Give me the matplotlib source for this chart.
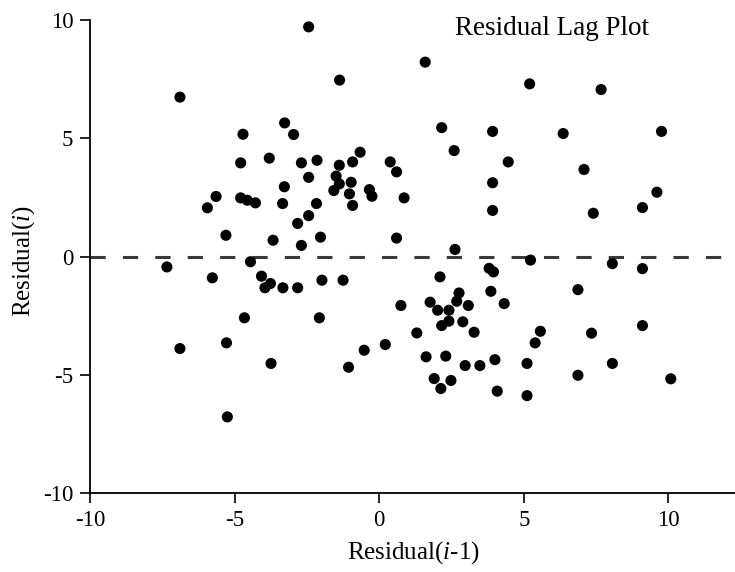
import matplotlib
matplotlib.use("Agg")
import matplotlib.pyplot as plt

# residual(i-1), residual(i) pairs
lag_x = [-2.44, -6.89, -3.27, -2.96, -4.71, -3.80, -2.69, -4.79, -2.44, -3.28,
         -5.64, -4.79, -4.56, -4.28, -3.34, -5.94, -2.44, -2.82, -5.30, -3.67,
         -2.69, -4.45,
         -1.37, 1.59, 2.16, 2.59, -0.66, -2.15, -0.92, -1.38, 0.38, 0.60,
         -1.49, -1.38, -0.97, -1.57, -1.03, -0.34, -0.25, -0.92, 0.86, -2.17,
         -2.03, 0.60, 2.62,
         5.20, 7.67, 3.92, 6.36, 9.76, 4.46, 7.08, 3.92, 9.60, 3.92, 7.40, 9.10,
         5.23,
         -7.34, -5.77, -4.07, -3.76, -3.95, -3.33, -2.82, -4.66, -5.28, -6.89,
         -3.74, -5.25, -2.07,
         -1.98, -1.25, 2.10, 0.75, 1.76, 2.02, 2.41, 2.76, 2.68, 3.08, 2.41,
         2.16, 2.89, 1.30, 0.21, -0.52, -1.06, 1.62, 2.30, 2.97, 1.90, 2.48,
         2.13,
         3.80, 3.95, 8.06, 9.10, 3.86, 6.87, 4.32, 3.28, 5.57, 5.39, 7.34,
         9.10, 3.48, 4.00, 5.11, 8.06, 6.87, 10.08, 4.08, 5.11]
lag_y = [9.71, 6.74, 5.65, 5.16, 5.17, 4.16, 3.96, 3.96, 3.35, 2.95,
         2.54, 2.48, 2.38, 2.27, 2.24, 2.06, 1.73, 1.40, 0.90, 0.69,
         0.47, -0.22,
         7.46, 8.22, 5.45, 4.48, 4.41, 4.07, 4.00, 3.86, 4.00, 3.58,
         3.40, 3.07, 3.14, 2.79, 2.65, 2.83, 2.55, 2.16, 2.48, 2.24,
         0.82, 0.78, 0.30,
         7.30, 7.06, 5.29, 5.20, 5.29, 4.00, 3.68, 3.12, 2.72, 1.95, 1.83, 2.07,
         -0.15,
         -0.44, -0.90, -0.83, -1.14, -1.32, -1.32, -1.32, -2.59, -3.65, -3.89,
         -4.52, -6.78, -2.59,
         -1.00, -1.00, -0.86, -2.07, -1.93, -2.27, -2.27, -1.54, -1.89, -2.07, -2.73,
         -2.92, -2.76, -3.23, -3.72, -3.96, -4.68, -4.24, -4.21, -4.61, -5.16, -5.24,
         -5.58,
         -0.50, -0.65, -0.30, -0.51, -1.47, -1.40, -1.99, -3.20, -3.16, -3.65, -3.24,
         -2.92, -4.61, -4.36, -4.52, -4.52, -5.02, -5.17, -5.69, -5.88]

x_ticks = [-10, -5, 0, 5, 10]
y_ticks = [-10, -5, 0, 5, 10]
title_text = "Residual Lag Plot"

plt.rcParams['font.family'] = ['Liberation Serif', 'DejaVu Serif']
plt.rcParams['mathtext.fontset'] = 'custom'
plt.rcParams['mathtext.rm'] = 'Liberation Serif'
plt.rcParams['mathtext.it'] = 'Liberation Serif:italic'
plt.rcParams['axes.unicode_minus'] = False

fig = plt.figure(figsize=(7.35, 5.72), dpi=100)
ax = fig.add_axes([0.1224, 0.138, 0.8776, 0.827])

ax.scatter(lag_x, lag_y, s=64, color='black', edgecolors='none', zorder=3)
ax.axhline(0, color='#3a3a3a', lw=2.2, linestyle=(0, (5.0, 5.6)), zorder=2)

ax.set_xlim(-10, 12.3)
ax.set_ylim(-10, 10)
ax.set_xticks(x_ticks)
ax.set_yticks(y_ticks)
ax.spines['top'].set_visible(False)
ax.spines['right'].set_visible(False)
for s in ['left', 'bottom']:
    ax.spines[s].set_linewidth(1.3)
    ax.spines[s].set_color('black')
ax.tick_params(direction='out', length=7, width=1.2, labelsize=16.5)
ax.tick_params(axis='x', pad=5)
ax.tick_params(axis='y', pad=5)

ax.set_xlabel('Residual($\\mathit{i}$-1)', fontsize=18)
ax.set_ylabel('Residual($\\mathit{i}$)', fontsize=18)
ax.xaxis.set_label_coords(0.502, -0.097)
ax.yaxis.set_label_coords(-0.082, 0.49)

ax.text(0.566, 1.008, title_text, transform=ax.transAxes, fontsize=19.5,
        ha='left', va='top')

fig.savefig('out.png', dpi=100)
